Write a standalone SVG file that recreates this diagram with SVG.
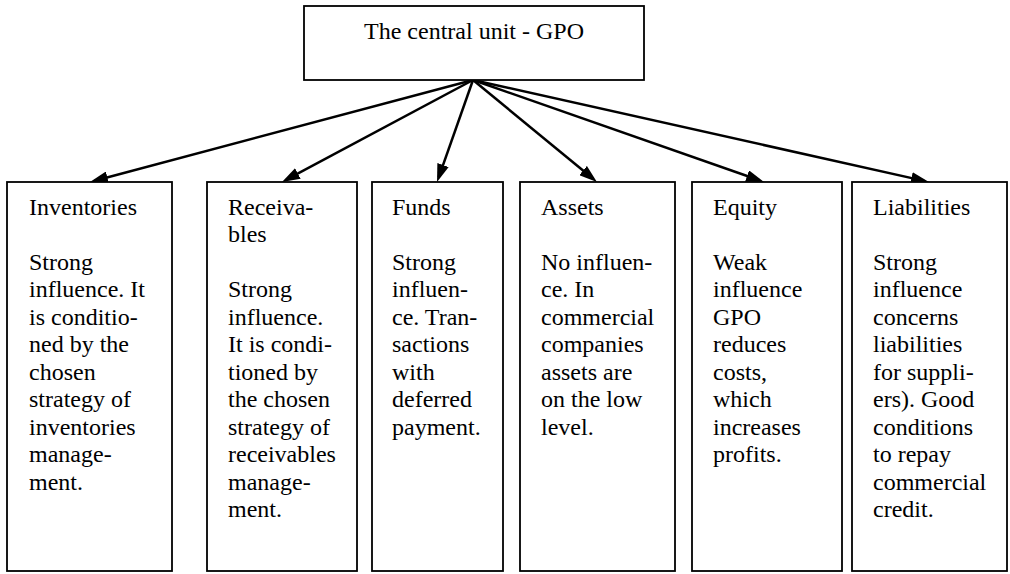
<svg xmlns="http://www.w3.org/2000/svg" width="1010" height="574" viewBox="0 0 1010 574">
<style>
  .box { fill: #ffffff; stroke: #000000; stroke-width: 1.8; }
  .t { font-family: 'Liberation Serif', 'Times New Roman', serif; font-size: 24px; fill: #000000; }
  .conn { stroke: #000000; stroke-width: 2.5; fill: none; marker-end: url(#arrow); }
</style>
<defs>
  <marker id="arrow" markerUnits="userSpaceOnUse" markerWidth="18" markerHeight="12" viewBox="0 0 18 12" refX="13" refY="6" orient="auto">
    <path d="M0,0 L18,6 L0,12 z" fill="#000000"/>
  </marker>
</defs>
<rect width="1010" height="574" fill="#ffffff"/>

<g id="connectors">
  <line class="conn" x1="473" y1="80" x2="94.8" y2="180.7"/>
  <line class="conn" x1="473" y1="80" x2="286.4" y2="179.6"/>
  <line class="conn" x1="473" y1="80" x2="438.7" y2="177.3"/>
  <line class="conn" x1="473" y1="80" x2="593.1" y2="178.8"/>
  <line class="conn" x1="473" y1="80" x2="759.3" y2="180.3"/>
  <line class="conn" x1="473" y1="80" x2="924.1" y2="180.9"/>
</g>

<g id="central">
  <rect class="box" x="304" y="6" width="340" height="74"/>
  <text class="t" x="474" y="39" text-anchor="middle">The central unit - GPO</text>
</g>

<g id="inventories">
  <rect class="box" x="7" y="182" width="165" height="389"/>
  <text class="t"><tspan x="29" y="214.5">Inventories</tspan><tspan x="29" y="269.5">Strong</tspan><tspan x="29" y="297">influence. It</tspan><tspan x="29" y="324.5">is conditio-</tspan><tspan x="29" y="352">ned by the</tspan><tspan x="29" y="379.5">chosen</tspan><tspan x="29" y="407">strategy of</tspan><tspan x="29" y="434.5">inventories</tspan><tspan x="29" y="462">manage-</tspan><tspan x="29" y="489.5">ment.</tspan></text>
</g>

<g id="receivables">
  <rect class="box" x="207" y="182" width="150" height="389"/>
  <text class="t"><tspan x="228" y="214.5">Receiva-</tspan><tspan x="228" y="242">bles</tspan><tspan x="228" y="297">Strong</tspan><tspan x="228" y="324.5">influence.</tspan><tspan x="228" y="352">It is condi-</tspan><tspan x="228" y="379.5">tioned by</tspan><tspan x="228" y="407">the chosen</tspan><tspan x="228" y="434.5">strategy of</tspan><tspan x="228" y="462">receivables</tspan><tspan x="228" y="489.5">manage-</tspan><tspan x="228" y="517">ment.</tspan></text>
</g>

<g id="funds">
  <rect class="box" x="372" y="182" width="131" height="389"/>
  <text class="t"><tspan x="392" y="214.5">Funds</tspan><tspan x="392" y="269.5">Strong</tspan><tspan x="392" y="297">influen-</tspan><tspan x="392" y="324.5">ce. Tran-</tspan><tspan x="392" y="352">sactions</tspan><tspan x="392" y="379.5">with</tspan><tspan x="392" y="407">deferred</tspan><tspan x="392" y="434.5">payment.</tspan></text>
</g>

<g id="assets">
  <rect class="box" x="520" y="182" width="155" height="389"/>
  <text class="t"><tspan x="541" y="214.5">Assets</tspan><tspan x="541" y="269.5">No influen-</tspan><tspan x="541" y="297">ce. In</tspan><tspan x="541" y="324.5">commercial</tspan><tspan x="541" y="352">companies</tspan><tspan x="541" y="379.5">assets are</tspan><tspan x="541" y="407">on the low</tspan><tspan x="541" y="434.5">level.</tspan></text>
</g>

<g id="equity">
  <rect class="box" x="692" y="182" width="150" height="389"/>
  <text class="t"><tspan x="713" y="214.5">Equity</tspan><tspan x="713" y="269.5">Weak</tspan><tspan x="713" y="297">influence</tspan><tspan x="713" y="324.5">GPO</tspan><tspan x="713" y="352">reduces</tspan><tspan x="713" y="379.5">costs,</tspan><tspan x="713" y="407">which</tspan><tspan x="713" y="434.5">increases</tspan><tspan x="713" y="462">profits.</tspan></text>
</g>

<g id="liabilities">
  <rect class="box" x="852" y="182" width="155" height="389"/>
  <text class="t"><tspan x="873" y="214.5">Liabilities</tspan><tspan x="873" y="269.5">Strong</tspan><tspan x="873" y="297">influence</tspan><tspan x="873" y="324.5">concerns</tspan><tspan x="873" y="352">liabilities</tspan><tspan x="873" y="379.5">for suppli-</tspan><tspan x="873" y="407">ers). Good</tspan><tspan x="873" y="434.5">conditions</tspan><tspan x="873" y="462">to repay</tspan><tspan x="873" y="489.5">commercial</tspan><tspan x="873" y="517">credit.</tspan></text>
</g>
</svg>
